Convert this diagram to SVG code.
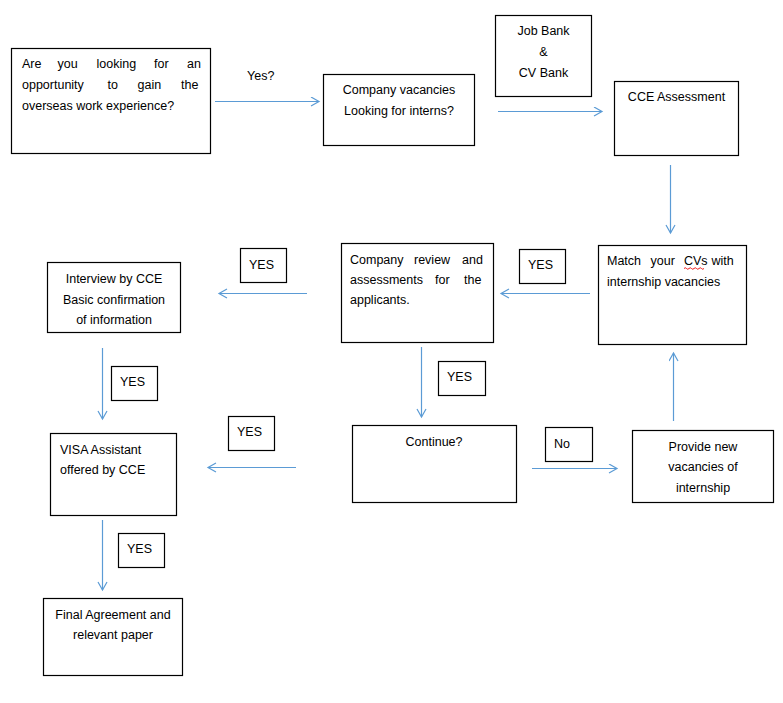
<svg xmlns="http://www.w3.org/2000/svg" width="783" height="703" viewBox="0 0 783 703">
<style>
.box{fill:#fff;stroke:#000;stroke-width:1.2}
.t{font-family:"Liberation Sans",Arial,sans-serif;font-size:12.5px;fill:#000}
.c{text-anchor:middle}
.ln{stroke:#5B9BD5;stroke-width:1.2;fill:none;marker-end:url(#ah)}
</style>
<defs>
<marker id="ah" markerUnits="userSpaceOnUse" markerWidth="12" markerHeight="12" refX="9" refY="5" orient="auto">
<path d="M1,0.5 L9,5 L1,9.5" fill="none" stroke="#5B9BD5" stroke-width="1.2"/>
</marker>
</defs>
<rect width="783" height="703" fill="#fff"/>

<g id="connectors">
<line class="ln" x1="215" y1="101.5" x2="319" y2="101.5"/>
<line class="ln" x1="498" y1="111.5" x2="602" y2="111.5"/>
<line class="ln" x1="670.5" y1="165" x2="670.5" y2="233"/>
<line class="ln" x1="590" y1="293.5" x2="501" y2="293.5"/>
<line class="ln" x1="307" y1="293.5" x2="219" y2="293.5"/>
<line class="ln" x1="102.5" y1="348" x2="102.5" y2="419"/>
<line class="ln" x1="421.5" y1="347" x2="421.5" y2="417"/>
<line class="ln" x1="532" y1="468.5" x2="617" y2="468.5"/>
<line class="ln" x1="673.5" y1="421" x2="673.5" y2="353"/>
<line class="ln" x1="296" y1="467.5" x2="208" y2="467.5"/>
<line class="ln" x1="102.5" y1="520" x2="102.5" y2="590"/>
<text class="t" x="247" y="80">Yes?</text>
</g>

<g id="n1">
<rect class="box" x="11.5" y="48.5" width="199" height="105"/>
<text class="t" y="68"><tspan x="22">Are</tspan><tspan x="57.5">you</tspan><tspan x="96.5">looking</tspan><tspan x="154">for</tspan><tspan x="187">an</tspan></text>
<text class="t" y="89"><tspan x="22">opportunity</tspan><tspan x="107.5">to</tspan><tspan x="137.5">gain</tspan><tspan x="181">the</tspan></text>
<text class="t" x="22" y="109.5">overseas work experience?</text>
</g>

<g id="n2">
<rect class="box" x="323.5" y="74.5" width="151" height="71"/>
<text class="t c" x="399" y="94">Company vacancies</text>
<text class="t c" x="399" y="115">Looking for interns?</text>
</g>

<g id="n3">
<rect class="box" x="495.5" y="15.5" width="96" height="81"/>
<text class="t c" x="543.5" y="35">Job Bank</text>
<text class="t c" x="543.5" y="56">&amp;</text>
<text class="t c" x="543.5" y="76.5">CV Bank</text>
</g>

<g id="n4">
<rect class="box" x="614.5" y="81.5" width="124" height="74"/>
<text class="t c" x="676.5" y="100.5">CCE Assessment</text>
</g>

<g id="n5">
<rect class="box" x="598.5" y="245.5" width="148" height="99"/>
<text class="t" y="265"><tspan x="607">Match</tspan><tspan x="650.5">your</tspan><tspan x="684">CVs</tspan><tspan x="711.5">with</tspan></text>
<path d="M684,268.5 q1.25,-1.5 2.5,0 t2.5,0 t2.5,0 t2.5,0 t2.5,0 t2.5,0 t2.5,0 t2.5,0" fill="none" stroke="#e00" stroke-width="0.9"/>
<text class="t" x="607" y="285.5">internship vacancies</text>
</g>

<g id="n6">
<rect class="box" x="519.5" y="249.5" width="46" height="34"/>
<text class="t" x="528" y="269">YES</text>
</g>

<g id="n7">
<rect class="box" x="341.5" y="243.5" width="152" height="99"/>
<text class="t" y="263.5"><tspan x="350">Company</tspan><tspan x="414">review</tspan><tspan x="462">and</tspan></text>
<text class="t" y="284"><tspan x="350">assessments</tspan><tspan x="435">for</tspan><tspan x="464">the</tspan></text>
<text class="t" x="350" y="304">applicants.</text>
</g>

<g id="n8">
<rect class="box" x="240.5" y="248.5" width="46" height="34"/>
<text class="t" x="249" y="268.5">YES</text>
</g>

<g id="n9">
<rect class="box" x="47.5" y="262.5" width="133" height="70"/>
<text class="t c" x="114" y="282.5">Interview by CCE</text>
<text class="t c" x="114" y="303.5">Basic confirmation</text>
<text class="t c" x="114" y="323.5">of information</text>
</g>

<g id="n10">
<rect class="box" x="111.5" y="366.5" width="46" height="34"/>
<text class="t" x="120" y="386">YES</text>
</g>

<g id="n11">
<rect class="box" x="438.5" y="361.5" width="47" height="34"/>
<text class="t" x="447" y="381">YES</text>
</g>

<g id="n12">
<rect class="box" x="352.5" y="425.5" width="164" height="77"/>
<text class="t c" x="434" y="446">Continue?</text>
</g>

<g id="n13">
<rect class="box" x="545.5" y="427.5" width="47" height="34"/>
<text class="t" x="554" y="447.5">No</text>
</g>

<g id="n14">
<rect class="box" x="632.5" y="430.5" width="141" height="72"/>
<text class="t c" x="703" y="451">Provide new</text>
<text class="t c" x="703" y="471">vacancies of</text>
<text class="t c" x="703" y="491.5">internship</text>
</g>

<g id="n15">
<rect class="box" x="228.5" y="416.5" width="46" height="34"/>
<text class="t" x="237" y="436">YES</text>
</g>

<g id="n16">
<rect class="box" x="50.5" y="433.5" width="126" height="82"/>
<text class="t" x="60" y="453.5">VISA Assistant</text>
<text class="t" x="60" y="474">offered by CCE</text>
</g>

<g id="n17">
<rect class="box" x="118.5" y="533.5" width="46" height="34"/>
<text class="t" x="127" y="553">YES</text>
</g>

<g id="n18">
<rect class="box" x="43.5" y="598.5" width="139" height="77"/>
<text class="t c" x="113" y="618.5">Final Agreement and</text>
<text class="t c" x="113" y="639">relevant paper</text>
</g>
</svg>
